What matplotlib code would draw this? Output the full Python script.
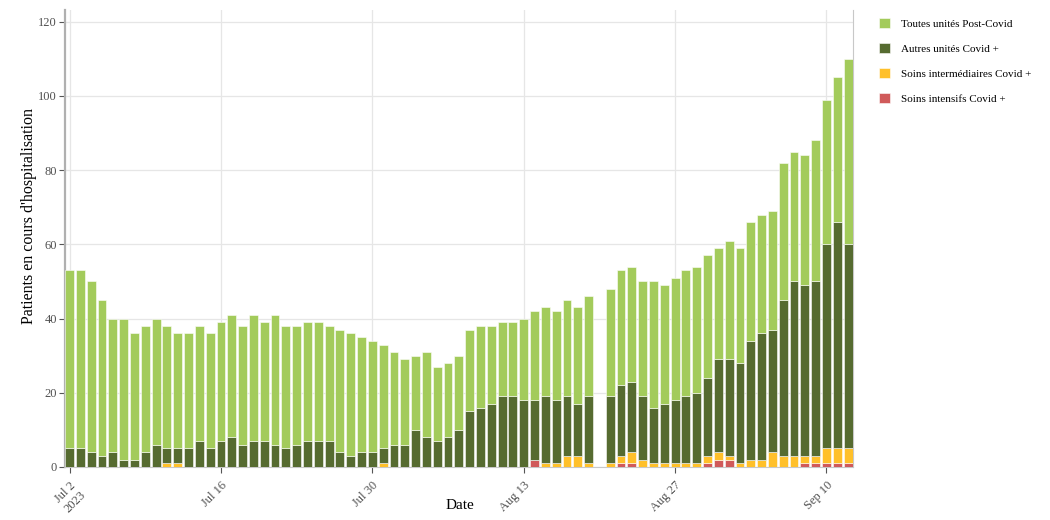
import numpy as np
import pandas as pd
import matplotlib
matplotlib.use('Agg')
import matplotlib.pyplot as plt

nan = np.nan

# daily dates, Jul 2 -> Sep 12 2023 (Aug 20 missing)
dates = pd.date_range('2023-07-02', '2023-09-12', freq='D')

post_covid = [48, 48, 46, 42, 36, 38, 34, 34, 34, 33, 31, 31, 31, 31, 32, 33, 32, 34, 32, 35,
              33, 32, 32, 32, 31, 33, 33, 31, 30, 28,
              25, 23, 20, 23, 20, 20, 20, 22, 22, 21, 20, 20, 22, 24, 24, 24, 26, 26, 27, nan,
              29, 31, 31, 31, 34, 32, 33, 34, 34, 33, 30,
              32, 31, 32, 32, 32, 37, 35, 35, 38, 39, 39, 50]
autres = [5, 5, 4, 3, 4, 2, 2, 4, 6, 4, 4, 5, 7, 5, 7, 8, 6, 7, 7, 6,
          5, 6, 7, 7, 7, 4, 3, 4, 4, 4,
          6, 6, 10, 8, 7, 8, 10, 15, 16, 17, 19, 19, 18, 16, 18, 17, 16, 14, 18, nan,
          18, 19, 19, 17, 15, 16, 17, 18, 19, 21, 25,
          26, 27, 32, 34, 33, 42, 47, 46, 47, 55, 61, 55]
intermediaires = [0, 0, 0, 0, 0, 0, 0, 0, 0, 1, 1, 0, 0, 0, 0, 0, 0, 0, 0, 0,
                  0, 0, 0, 0, 0, 0, 0, 0, 0, 1,
                  0, 0, 0, 0, 0, 0, 0, 0, 0, 0, 0, 0, 0, 0, 1, 1, 3, 3, 1, nan,
                  1, 2, 3, 2, 1, 1, 1, 1, 1, 2, 2,
                  1, 1, 2, 2, 4, 3, 3, 2, 2, 4, 4, 4]
intensifs = [0] * 30 + \
            [0, 0, 0, 0, 0, 0, 0, 0, 0, 0, 0, 0, 0, 2, 0, 0, 0, 0, 0, nan,
             0, 1, 1, 0, 0, 0, 0, 0, 0, 1, 2] + \
            [2, 0, 0, 0, 0, 0, 0, 1, 1, 1, 1, 1]

tick_dates = pd.to_datetime(['2023-07-02', '2023-07-16', '2023-07-30',
                             '2023-08-13', '2023-08-27', '2023-09-10'])
tick_labels = ['Jul 2\n2023', 'Jul 16', 'Jul 30', 'Aug 13', 'Aug 27', 'Sep 10']

plt.rcParams['font.family'] = ['Liberation Serif', 'DejaVu Serif']

fig = plt.figure(figsize=(10.5, 5.2), dpi=100)
ax = fig.add_axes([0.062, 0.102, 0.750, 0.879])

series = [
    ('Soins intensifs Covid +', intensifs, '#d05a5a'),
    ('Soins intermédiaires Covid +', intermediaires, '#ffc02a'),
    ('Autres unités Covid +', autres, '#566b30'),
    ('Toutes unités Post-Covid', post_covid, '#a3cb5b'),
]

bottom = np.zeros(len(dates))
handles = []
for name, vals, col in series:
    vals = np.array(vals, dtype=float)
    b = ax.bar(dates, vals, bottom=bottom, width=0.82, color=col,
               edgecolor=(1, 1, 1, 0.55), linewidth=0.7, label=name, zorder=3)
    handles.append(b)
    bottom = bottom + np.nan_to_num(vals)

ax.set_xlim(dates[0] - pd.Timedelta(hours=10), dates[-1] + pd.Timedelta(hours=10))
ax.set_ylim(0, 123.2)
ax.set_yticks(range(0, 121, 20))
ax.set_xticks(tick_dates)
ax.set_xticklabels(tick_labels, rotation=45, ha='right', va='top',
                   rotation_mode='anchor', fontsize=9, color='#505050')
ax.tick_params(axis='y', labelsize=9, labelcolor='#505050', color='#555555',
               length=4, pad=2)
ax.tick_params(axis='x', color='#555555', length=4, pad=5)

ax.grid(True, color='#e6e6e6', linewidth=0.9, zorder=0)
ax.set_axisbelow(True)
ax.spines['top'].set_visible(False)
ax.spines['left'].set_color('#b0b0b0')
ax.spines['left'].set_linewidth(1.6)
ax.spines['right'].set_color('#c8c8c8')
ax.spines['bottom'].set_color('#c8c8c8')

ax.set_xlabel('Date', fontsize=11)
ax.xaxis.set_label_coords(0.501, -0.070)
ax.set_ylabel("Patients en cours d'hospitalisation", fontsize=11.5)
ax.yaxis.set_label_coords(-0.036, 0.55)

leg = ax.legend(handles[::-1], [s[0] for s in series][::-1],
                loc='upper left', bbox_to_anchor=(1.028, 0.991), frameon=False,
                fontsize=8, handlelength=1.0, handleheight=1.0,
                labelspacing=1.27, handletextpad=1.0, borderaxespad=0)

fig.savefig('out.png', dpi=100)
